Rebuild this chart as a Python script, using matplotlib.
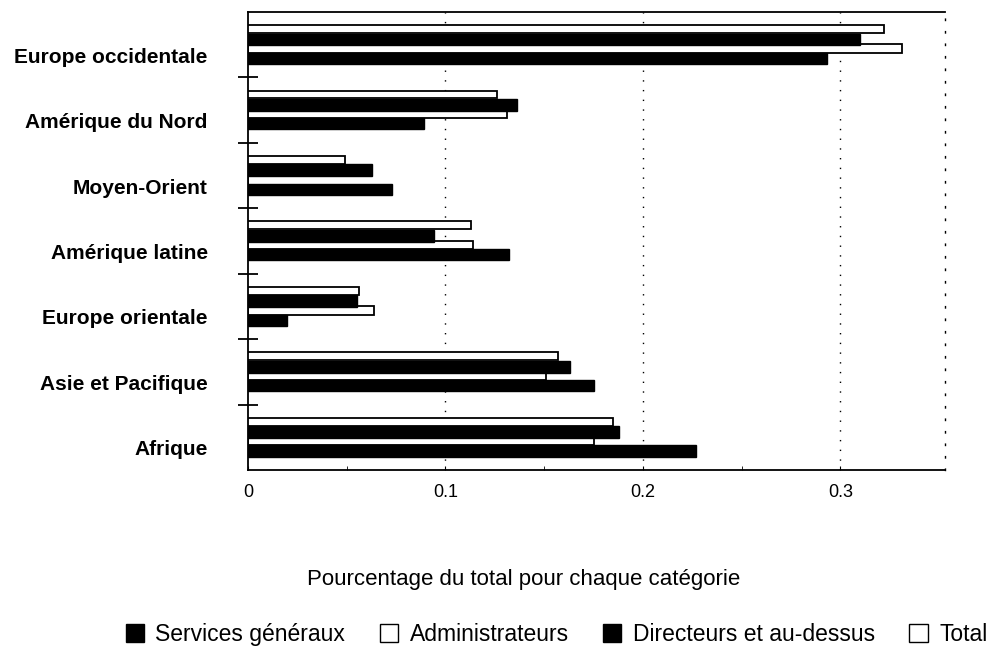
import numpy as np
import matplotlib.pyplot as plt
from matplotlib.patches import Patch

# Regions (top to bottom as shown)
regions = ['Europe occidentale', 'Amérique du Nord', 'Moyen-Orient',
           'Amérique latine', 'Europe orientale', 'Asie et Pacifique', 'Afrique']

# Share of total per category
services_generaux = [0.293, 0.089, 0.073, 0.132, 0.020, 0.175, 0.227]
administrateurs   = [0.331, 0.131, 0.000, 0.114, 0.064, 0.151, 0.175]
directeurs        = [0.310, 0.136, 0.063, 0.094, 0.055, 0.163, 0.188]
total             = [0.322, 0.126, 0.049, 0.113, 0.056, 0.157, 0.185]

plt.rcParams['font.family'] = ['Liberation Sans', 'DejaVu Sans']

fig = plt.figure(figsize=(9.92, 6.51), dpi=100)
ax = fig.add_axes([0.25, 0.278, 0.7026, 0.7036])

y = np.arange(len(regions))[::-1]

# drawing order matters: admin first, so neighbours cover it
ax.barh(y - 0.06, administrateurs, height=0.13, color='white', edgecolor='black', lw=1.3, zorder=2)
ax.barh(y - 0.21, services_generaux, height=0.17, color='black', edgecolor='black', lw=1, zorder=3)
ax.barh(y + 0.08, directeurs, height=0.18, color='black', edgecolor='black', lw=1, zorder=4)
ax.barh(y + 0.24, total, height=0.12, color='white', edgecolor='black', lw=1.3, zorder=5)

ax.set_xlim(0, 0.353)
ax.set_ylim(-0.5, len(regions) - 0.5)

for xv in [0.1, 0.2, 0.3]:
    ax.axvline(xv, color='black', ls=(0, (1, 6)), lw=1, zorder=1)

ax.spines['right'].set_linestyle((0, (1, 8)))
ax.spines['right'].set_linewidth(1)
ax.spines['left'].set_linewidth(1.3)
ax.spines['bottom'].set_linewidth(1.3)
ax.spines['top'].set_linewidth(1.3)

ax.set_yticks(y - 0.16)
ax.set_yticklabels(regions, fontsize=15, fontweight='bold')
ax.tick_params(axis='y', length=0, pad=29)
ax.set_yticks(np.arange(len(regions) - 1) + 0.5, minor=True)
ax.tick_params(axis='y', which='minor', direction='inout', length=14, width=1.3)

ax.set_xticks([0, 0.1, 0.2, 0.3])
ax.set_xticklabels(['0', '0.1', '0.2', '0.3'], fontsize=13)
ax.set_xticks(np.arange(0.05, 0.35, 0.1), minor=True)
ax.tick_params(axis='x', which='both', direction='in', length=3, pad=10)

ax.set_xlabel('Pourcentage du total pour chaque catégorie', fontsize=16, labelpad=50)
ax.xaxis.set_label_coords(0.396, -0.215)

handles = [Patch(facecolor='black', edgecolor='black', label='Services généraux'),
           Patch(facecolor='white', edgecolor='black', label='Administrateurs'),
           Patch(facecolor='black', edgecolor='black', label='Directeurs et au-dessus'),
           Patch(facecolor='white', edgecolor='black', label='Total')]
fig.legend(handles=handles, loc='center', bbox_to_anchor=(0.561, 0.025), ncol=4,
           frameon=False, fontsize=16.5, handlelength=0.8, handleheight=0.8,
           handletextpad=0.5, columnspacing=1.5)

fig.savefig('out.png', dpi=100)
